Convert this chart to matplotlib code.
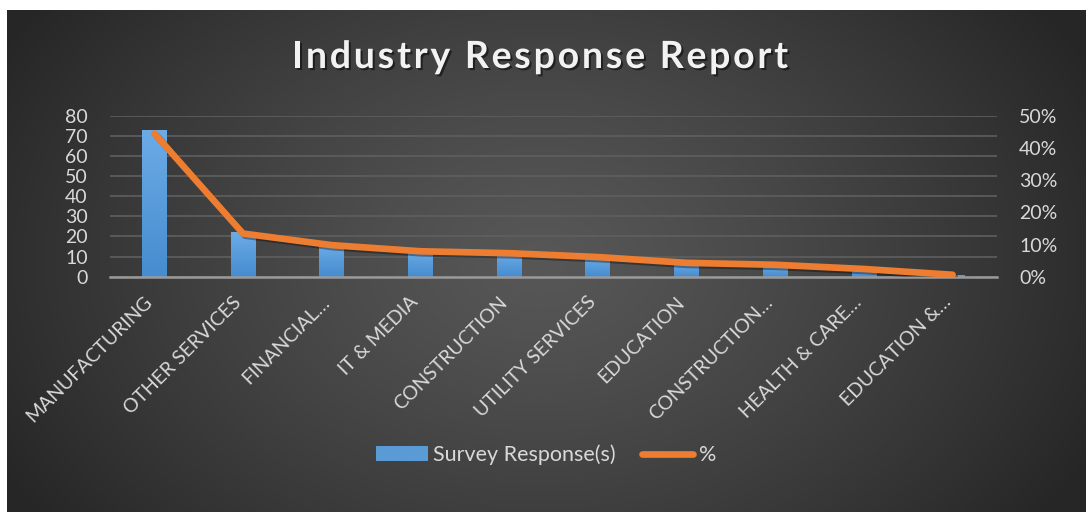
import numpy as np
import matplotlib
matplotlib.use("Agg")
import matplotlib.pyplot as plt
from matplotlib.lines import Line2D
from matplotlib.patches import Patch
from matplotlib.ticker import FuncFormatter
from matplotlib.font_manager import FontProperties
import matplotlib.transforms as mtransforms
import matplotlib.patheffects as pe

# ---- data ----
categories = ["MANUFACTURING", "OTHER SERVICES", "FINANCIAL…", "IT & MEDIA",
              "CONSTRUCTION", "UTILITY SERVICES", "EDUCATION", "CONSTRUCTION…",
              "HEALTH & CARE…", "EDUCATION &…"]
responses = [73, 22, 16, 13, 12, 10, 7, 6, 4, 1]
percents = [0.445, 0.134, 0.098, 0.079, 0.073, 0.061, 0.043, 0.037, 0.024, 0.006]
left_ticks = [0, 10, 20, 30, 40, 50, 60, 70, 80]
right_ticks = [0.0, 0.1, 0.2, 0.3, 0.4, 0.5]
title = "Industry Response Report"
series_names = ["Survey Response(s)", "%"]

W, H = 1086, 512
FONT = ["Lato", "DejaVu Sans"]
TXT = "#d9d9d9"
ORANGE = "#ED7D31"

fig = plt.figure(figsize=(W / 100, H / 100), dpi=100, facecolor="white")

# ---- dark radial background ----
bg = fig.add_axes([7 / W, 0, (W - 7) / W, (H - 10) / H])
bg.set_axis_off()
yy, xx = np.mgrid[0:502, 0:1079]
cx, cy = 533, 250
r = np.sqrt(((xx - cx) / 620.0) ** 2 + ((yy - cy) / 440.0) ** 2)
c = 0x57 - (0x57 - 0x26) * np.clip(r, 0, 1) ** 1.25
img = np.dstack([c, c, c]) / 255.0
bg.imshow(img, aspect="auto", extent=[0, 1, 0, 1], origin="upper", interpolation="bilinear")
bg.set_xlim(0, 1)
bg.set_ylim(0, 1)

# ---- main axes ----
x0, x1 = 110, 997
ytop, ybot = 115.7, 276.7
ax = fig.add_axes([x0 / W, (H - ybot) / H, (x1 - x0) / W, (ybot - ytop) / H])
ax.patch.set_alpha(0)

x = np.arange(len(categories))
bars = ax.bar(x, responses, width=0.28, color="#5B9BD5", zorder=2)
grad = np.linspace(0, 1, 64).reshape(-1, 1)
top_c = np.array([0x6C, 0xAB, 0xE6]) / 255.0
bot_c = np.array([0x46, 0x8C, 0xCF]) / 255.0
gimg = (top_c[None, None, :] * (1 - grad[:, :, None]) + bot_c[None, None, :] * grad[:, :, None])
for b in bars:
    bx, by = b.get_x(), b.get_y()
    bw, bh = b.get_width(), b.get_height()
    b.set_facecolor("none")
    im = ax.imshow(gimg, extent=[bx, bx + bw, by, by + bh], aspect="auto",
                   origin="upper", zorder=2.1)
    im.set_clip_path(b)

ax.set_xlim(-0.5, len(categories) - 0.5)
ax.set_ylim(0, 80)
ax.set_yticks(left_ticks)
ax.grid(axis="y", color="#5f5f5f", linewidth=1.2, zorder=0)
ax.set_axisbelow(True)
for s in ["top", "right", "left"]:
    ax.spines[s].set_visible(False)
ax.spines["bottom"].set_color("#9a9a9a")
ax.spines["bottom"].set_linewidth(1.8)
ax.tick_params(axis="both", length=0, colors=TXT)
ax.tick_params(axis="y", pad=16)
for lab in ax.get_yticklabels():
    lab.set_fontfamily(FONT)
    lab.set_fontsize(14)
    lab.set_color(TXT)

ax.set_xticks(x)
ax.set_xticklabels(categories, rotation=45, ha="right", va="top",
                   rotation_mode="anchor", fontsize=14, color=TXT, family=FONT)
ax.tick_params(axis="x", pad=12)
shift = mtransforms.ScaledTranslation(-11 / 100, 0, fig.dpi_scale_trans)
for lab in ax.get_xticklabels():
    lab.set_transform(lab.get_transform() + shift)

# ---- secondary axis ----
ax2 = ax.twinx()
ax2.set_ylim(0, 0.5)
ax2.set_yticks(right_ticks)
ax2.yaxis.set_major_formatter(FuncFormatter(lambda v, p: f"{int(round(v * 100))}%"))
for s in ["top", "right", "left", "bottom"]:
    ax2.spines[s].set_visible(False)
ax2.tick_params(axis="y", length=0, pad=16, colors=TXT)
for lab in ax2.get_yticklabels():
    lab.set_fontfamily(FONT)
    lab.set_fontsize(14)
ax2.plot(x, percents, color=ORANGE, linewidth=4.8, solid_capstyle="round",
         solid_joinstyle="round", zorder=3,
         path_effects=[pe.SimpleLineShadow(offset=(1.5, -1.5), shadow_color="black", alpha=0.35),
                       pe.Normal()])

# ---- title with letter spacing ----
fp = FontProperties(family=FONT, weight="bold", size=27)
renderer = fig.canvas.get_renderer()


def text_w(s):
    t = fig.text(0, 0, s, fontproperties=fp)
    w = t.get_window_extent(renderer).width
    t.remove()
    return w


full_w = text_w(title)
target_w = 496.0
sp = (target_w - full_w) / (len(title) - 1)
left = 540 - target_w / 2
ty = 1 - 57 / H
for i, ch in enumerate(title):
    if ch == " ":
        continue
    start = text_w(title[:i + 1]) - text_w(ch)
    xpix = left + start + i * sp
    fig.text(xpix / W, ty, ch, ha="left", va="center",
             fontproperties=fp, color="#f2f2f2",
             path_effects=[pe.withSimplePatchShadow(offset=(1.5, -1.5), shadow_rgbFace="black", alpha=0.5)])

# ---- legend ----
handles = [Patch(facecolor="#5B9BD5", edgecolor="none"),
           Line2D([0], [0], color=ORANGE, linewidth=4.8, solid_capstyle="round")]
leg = fig.legend(handles, series_names, loc="center", bbox_to_anchor=(546 / W, 1 - 455 / H),
                 ncol=2, frameon=False, prop={"family": FONT, "size": 15.5},
                 handlelength=2.4, handleheight=0.7, handletextpad=0.25, columnspacing=1.2)
for t in leg.get_texts():
    t.set_color(TXT)

fig.savefig("out.png", dpi=100, facecolor="white")
